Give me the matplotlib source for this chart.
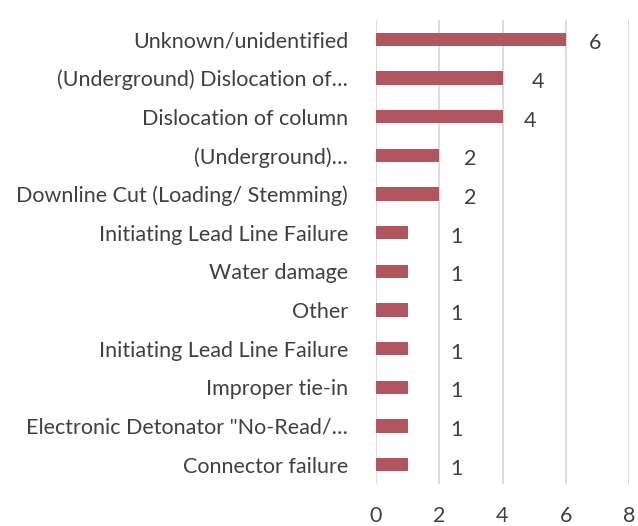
import matplotlib
matplotlib.use("Agg")
import matplotlib.pyplot as plt

categories = [
    "Unknown/unidentified",
    "(Underground) Dislocation of\u2026",
    "Dislocation of column",
    "(Underground)\u2026",
    "Downline Cut (Loading/ Stemming)",
    "Initiating Lead Line Failure",
    "Water damage",
    "Other",
    "Initiating Lead Line Failure",
    "Improper tie-in",
    "Electronic Detonator \"No-Read/\u2026",
    "Connector failure",
]
values = [6, 4, 4, 2, 2, 1, 1, 1, 1, 1, 1, 1]
x_ticks = [0, 2, 4, 6, 8]

# label offsets in pixels (Excel places these unevenly)
label_dx = [29, 35, 28, 31, 31, 49, 49, 49, 49, 49, 49, 49]

BAR_COLOR = "#B2555E"
TEXT_COLOR = "#404040"
GRID_COLOR = "#D9D9D9"
FS = 15.5

plt.rcParams["font.family"] = ["Lato", "DejaVu Sans"]

fig = plt.figure(figsize=(6.38, 5.26), dpi=100)
ax = fig.add_axes([376 / 638, 1 - 484 / 526, (629 - 376) / 638, (484 - 20) / 526])

ypos = list(range(len(categories)))
ax.barh(ypos, values, height=0.34, color=BAR_COLOR, zorder=3)
ax.set_ylim(len(categories) - 0.5, -0.5)
ax.set_xlim(0, 8)
ax.set_xticks(x_ticks)
ax.set_yticks(ypos)
ax.set_yticklabels(categories)
ax.tick_params(axis="y", length=0, pad=20, labelsize=FS, labelcolor=TEXT_COLOR)
ax.tick_params(axis="x", length=0, pad=16, labelsize=FS, labelcolor=TEXT_COLOR)
ax.grid(axis="x", color=GRID_COLOR, linewidth=1.3, zorder=0)
for s in ax.spines.values():
    s.set_visible(False)

for y, v, dx in zip(ypos, values, label_dx):
    ax.annotate(str(v), (v, y), xytext=(dx * 0.72, -4 * 0.72), textcoords="offset points",
                ha="center", va="center", fontsize=FS, color=TEXT_COLOR)

fig.savefig("out.png", dpi=100)
